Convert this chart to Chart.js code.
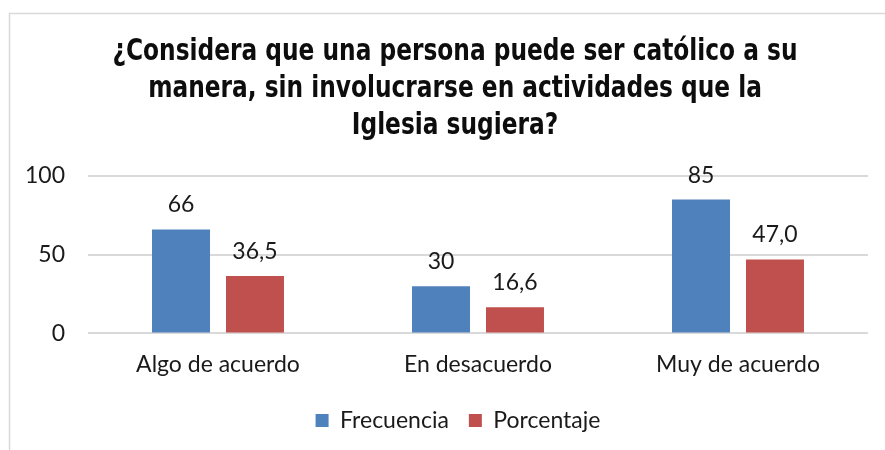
<!DOCTYPE html>
<html>
<head>
<meta charset="utf-8">
<script src="https://cdn.jsdelivr.net/npm/chart.js@4"></script>
<style>
  html, body { margin: 0; padding: 0; background: #fff; }
  #wrap { width: 885px; height: 450px; }
</style>
</head>
<body>
<div id="wrap"><canvas id="survey-chart" width="885" height="450"></canvas></div>
<script>
const categories = ["Algo de acuerdo", "En desacuerdo", "Muy de acuerdo"];
const frecuencia = [66, 30, 85];
const porcentaje = [36.5, 16.6, 47.0];
const y_ticks = [0, 50, 100];
const title_lines = [
    "¿Considera que una persona puede ser católico a su",
    "manera, sin involucrarse en actividades que la",
    "Iglesia sugiera?"
];

const text_font = "Lato, 'Noto Sans', sans-serif";
const title_font = "'DejaVu Sans Condensed', 'DejaVu Sans', sans-serif";

function format_value(v, decimals) {
    return v.toFixed(decimals).replace(".", ",");
}

// frame lines at left and top, like the original picture
const frame_plugin = {
    id: "frame",
    beforeDraw(chart) {
        const c = chart.ctx;
        c.save();
        c.fillStyle = "#ffffff";
        c.fillRect(0, 0, chart.width, chart.height);
        c.strokeStyle = "#d9d9d9";
        c.lineWidth = 1.5;
        c.beginPath();
        c.moveTo(9.5, chart.height);
        c.lineTo(9.5, 13.5);
        c.lineTo(chart.width, 13.5);
        c.stroke();
        c.restore();
    }
};

// condensed bold title, squeezed to the width of the original
const title_plugin = {
    id: "condensedTitle",
    afterDraw(chart) {
        const c = chart.ctx;
        c.save();
        c.font = "bold 30px " + title_font;
        c.fillStyle = "#0d0d0d";
        c.textAlign = "center";
        c.textBaseline = "middle";
        const squeeze = 685 / c.measureText(title_lines[0]).width;
        title_lines.forEach((line, i) => {
            c.save();
            c.translate(455, 52 + i * 37);
            c.scale(squeeze, 1);
            c.fillText(line, 0, 0);
            c.restore();
        });
        c.restore();
    }
};

// legend sits a bit right of the centre in the original
const legend_shift = {
    id: "legendShift",
    afterLayout(chart) {
        chart.legend.left += 14;
        chart.legend.right += 14;
    }
};

// value labels above each bar
const value_labels = {
    id: "valueLabels",
    afterDatasetsDraw(chart) {
        const c = chart.ctx;
        c.save();
        c.font = "23px " + text_font;
        c.fillStyle = "#1a1a1a";
        c.textAlign = "center";
        c.textBaseline = "bottom";
        chart.data.datasets.forEach((ds, i) => {
            const meta = chart.getDatasetMeta(i);
            meta.data.forEach((bar, j) => {
                c.fillText(format_value(ds.data[j], ds.decimals), bar.x, bar.y - 13);
            });
        });
        c.restore();
    }
};

const ctx = document.getElementById("survey-chart").getContext("2d");

const data = {
    labels: categories,
    datasets: [
        {
            label: "Frecuencia",
            data: frecuencia,
            decimals: 0,
            backgroundColor: "#4F81BD"
        },
        {
            label: "Porcentaje",
            data: porcentaje,
            decimals: 1,
            backgroundColor: "#C0504D"
        }
    ]
};

const options = {
    responsive: false,
    animation: false,
    devicePixelRatio: 1,
    layout: { padding: { left: 20, right: 17, top: 176, bottom: 8 } },
    datasets: {
        bar: { categoryPercentage: 0.569, barPercentage: 0.784 }
    },
    plugins: {
        legend: {
            position: "bottom",
            labels: {
                boxWidth: 13,
                boxHeight: 13,
                padding: 20,
                color: "#1a1a1a",
                font: { family: text_font, size: 23 }
            }
        },
        tooltip: { enabled: false }
    },
    scales: {
        x: {
            grid: { display: false },
            border: { display: false },
            ticks: {
                color: "#1a1a1a",
                padding: 9,
                font: { family: text_font, size: 23 }
            },
            afterFit(scale) { scale.height += 2; }
        },
        y: {
            min: 0,
            max: 100,
            afterBuildTicks(scale) { scale.ticks = y_ticks.map(v => ({ value: v })); },
            afterFit(scale) { scale.width = 68; },
            grid: { color: "#d9d9d9", lineWidth: 2, drawTicks: false },
            border: { display: false },
            ticks: {
                color: "#1a1a1a",
                padding: 23,
                font: { family: text_font, size: 23 }
            }
        }
    }
};

const survey_chart = new Chart(ctx, {
    type: "bar",
    data: data,
    options: options,
    plugins: [frame_plugin, title_plugin, legend_shift, value_labels]
});
</script>
</body>
</html>
